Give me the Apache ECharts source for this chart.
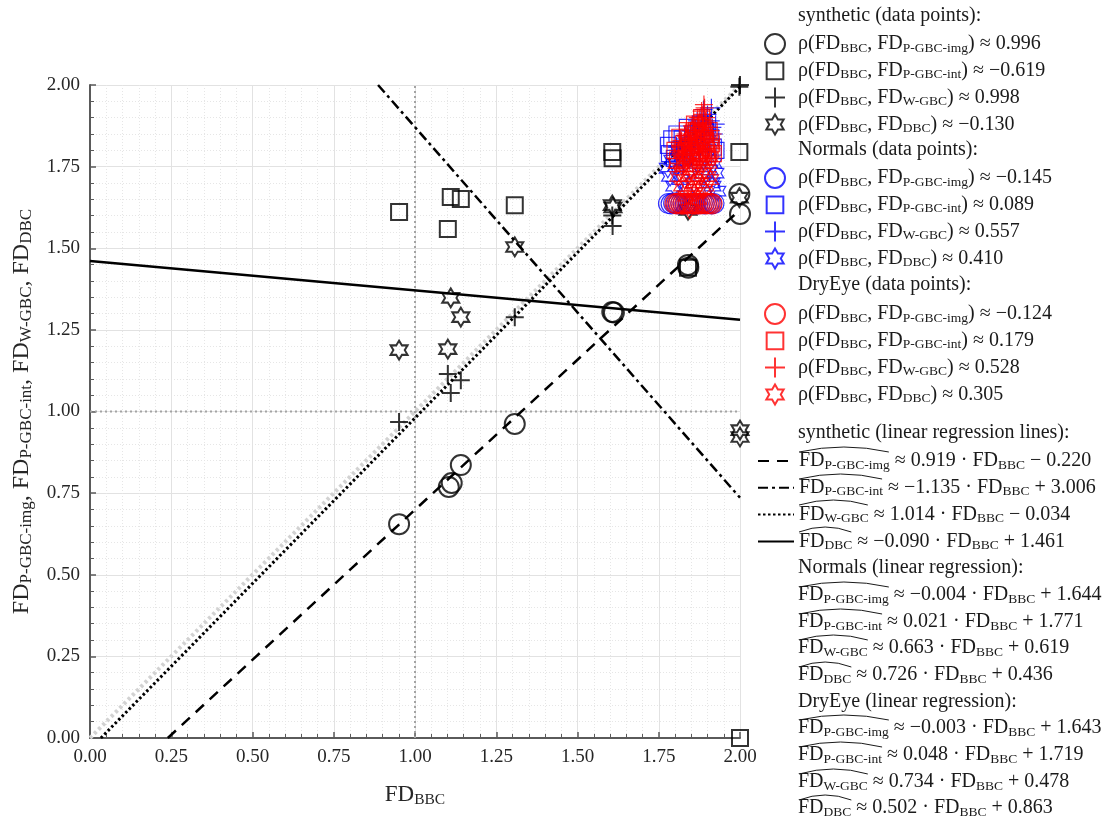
<!DOCTYPE html>
<html><head><meta charset="utf-8">
<script src="https://cdn.jsdelivr.net/npm/echarts@6/dist/echarts.min.js"></script>
<style>html,body{margin:0;padding:0;background:#fff}#c{width:1102px;height:821px}</style>
</head><body><div id="c"></div>
<script>
// ---------------- DATA ----------------
const subNames = ['P-GBC-img', 'P-GBC-int', 'W-GBC', 'DBC'];
const corrSyn = ['0.996', '−0.619', '0.998', '−0.130'];
const corrNor = ['−0.145', '0.089', '0.557', '0.410'];
const corrDry = ['−0.124', '0.179', '0.528', '0.305'];
const coefSyn = [[0.919, -0.220], [-1.135, 3.006], [1.014, -0.034], [-0.090, 1.461]];
const coefNor = [[-0.004, 1.644], [0.021, 1.771], [0.663, 0.619], [0.726, 0.436]];
const coefDry = [[-0.003, 1.643], [0.048, 1.719], [0.734, 0.478], [0.502, 0.863]];

// regression line end points
const lineImg = [[0.2394, 0], [2, 1.618]];
const lineInt = [[0.8863, 2], [2, 0.736]];
const lineW = [[0.0335, 0], [2, 1.994]];
const lineDbc = [[0, 1.461], [2, 1.281]];
const lineIdent = [[0, 0], [2, 2]];
const refV = [[1, 0], [1, 2]];
const refH = [[0, 1], [2, 1]];

// synthetic points
const synImg = [[0.951,0.655],[1.104,0.769],[1.113,0.781],[1.141,0.836],[1.307,0.962],[1.607,1.305],[1.612,1.303],[1.840,1.449],[1.841,1.440],[1.998,1.666],[2.000,1.605],[2.001,1.559]];
const synInt = [[0.951,1.611],[1.101,1.559],[1.110,1.657],[1.141,1.651],[1.307,1.632],[1.607,1.795],[1.608,1.776],[1.840,1.440],[1.998,1.795],[2.000,0.000]];
const synW = [[0.951,0.968],[1.101,1.115],[1.110,1.057],[1.141,1.096],[1.307,1.289],[1.607,1.600],[1.608,1.568],[1.840,1.830],[1.998,1.995],[2.000,2.000]];
const synDbc = [[0.951,1.188],[1.101,1.191],[1.110,1.348],[1.141,1.289],[1.307,1.504],[1.607,1.632],[1.609,1.625],[1.840,1.617],[1.998,1.655],[2.000,0.943],[2.000,0.922]];

// Normals (blue)
const norImg = [[1.780,1.637],[1.788,1.636],[1.796,1.638],[1.803,1.637],[1.810,1.636],[1.818,1.637],[1.825,1.638],[1.832,1.636],[1.840,1.637],[1.846,1.637],[1.852,1.636],[1.858,1.638],[1.864,1.637],[1.870,1.636],[1.877,1.637],[1.884,1.638],[1.890,1.636],[1.897,1.637],[1.905,1.637],[1.912,1.636],[1.920,1.637]];
const norInt = [[1.780,1.815],[1.783,1.790],[1.790,1.835],[1.798,1.775],[1.806,1.850],[1.814,1.800],[1.822,1.835],[1.830,1.760],[1.838,1.870],[1.846,1.815],[1.854,1.790],[1.862,1.850],[1.870,1.780],[1.878,1.880],[1.886,1.820],[1.894,1.860],[1.902,1.790],[1.910,1.840],[1.918,1.810],[1.926,1.800]];
const norW = [[1.800,1.790],[1.806,1.810],[1.812,1.770],[1.818,1.825],[1.824,1.800],[1.830,1.845],[1.836,1.780],[1.842,1.830],[1.848,1.860],[1.852,1.810],[1.858,1.875],[1.862,1.840],[1.868,1.890],[1.872,1.820],[1.876,1.860],[1.880,1.905],[1.884,1.845],[1.888,1.925],[1.892,1.880],[1.896,1.860],[1.900,1.910],[1.905,1.835],[1.910,1.890],[1.915,1.870],[1.920,1.850],[1.925,1.880],[1.912,1.930]];
const norDbc = [[1.778,1.745],[1.785,1.720],[1.792,1.770],[1.798,1.690],[1.805,1.750],[1.812,1.800],[1.818,1.710],[1.825,1.770],[1.832,1.680],[1.838,1.820],[1.845,1.740],[1.852,1.790],[1.858,1.700],[1.865,1.850],[1.870,1.760],[1.876,1.810],[1.882,1.720],[1.888,1.870],[1.894,1.780],[1.900,1.830],[1.906,1.740],[1.912,1.700],[1.918,1.760],[1.924,1.730],[1.930,1.675],[1.915,1.690]];

// DryEye (red)
const dryImg = [[1.800,1.637],[1.806,1.636],[1.812,1.638],[1.818,1.637],[1.824,1.636],[1.830,1.637],[1.836,1.638],[1.842,1.636],[1.848,1.637],[1.854,1.637],[1.860,1.636],[1.866,1.638],[1.872,1.637],[1.878,1.636],[1.884,1.637],[1.890,1.638],[1.896,1.636],[1.902,1.637],[1.908,1.637],[1.914,1.636]];
const dryInt = [[1.800,1.800],[1.808,1.770],[1.815,1.840],[1.822,1.800],[1.830,1.760],[1.838,1.860],[1.845,1.810],[1.852,1.780],[1.860,1.880],[1.868,1.830],[1.875,1.790],[1.882,1.900],[1.890,1.840],[1.897,1.800],[1.905,1.860],[1.912,1.820],[1.918,1.790],[1.826,1.820],[1.834,1.790],[1.842,1.840],[1.850,1.800],[1.858,1.830],[1.866,1.860],[1.874,1.820],[1.880,1.780],[1.886,1.870],[1.894,1.830],[1.900,1.780],[1.908,1.800]];
const dryW = [[1.810,1.800],[1.815,1.760],[1.820,1.830],[1.826,1.790],[1.832,1.850],[1.838,1.770],[1.843,1.820],[1.848,1.860],[1.853,1.800],[1.858,1.880],[1.862,1.840],[1.866,1.770],[1.870,1.900],[1.874,1.860],[1.878,1.820],[1.882,1.920],[1.886,1.880],[1.889,1.940],[1.892,1.850],[1.896,1.900],[1.900,1.800],[1.904,1.870],[1.908,1.830],[1.912,1.780],[1.916,1.850],[1.815,1.810],[1.822,1.780],[1.828,1.820],[1.834,1.800],[1.840,1.840],[1.846,1.790],[1.850,1.830],[1.856,1.850],[1.860,1.810],[1.864,1.870],[1.868,1.830],[1.872,1.880],[1.876,1.900],[1.880,1.850],[1.884,1.910],[1.888,1.870],[1.891,1.930],[1.894,1.890],[1.898,1.860],[1.902,1.840],[1.906,1.810],[1.910,1.860],[1.855,1.760],[1.885,1.790],[1.895,1.770],[1.825,1.750]];
const dryDbc = [[1.805,1.760],[1.810,1.720],[1.816,1.800],[1.822,1.690],[1.828,1.760],[1.834,1.830],[1.840,1.720],[1.845,1.620],[1.848,1.790],[1.853,1.860],[1.858,1.700],[1.862,1.750],[1.867,1.820],[1.872,1.680],[1.876,1.880],[1.880,1.770],[1.885,1.730],[1.890,1.840],[1.894,1.690],[1.898,1.800],[1.903,1.760],[1.908,1.710],[1.912,1.820],[1.835,1.660],[1.870,1.650],[1.820,1.740],[1.830,1.710],[1.838,1.780],[1.844,1.690],[1.850,1.740],[1.856,1.810],[1.864,1.720],[1.870,1.790],[1.878,1.700],[1.884,1.760],[1.892,1.740],[1.900,1.720],[1.906,1.780],[1.860,1.670],[1.888,1.680]];

// ---------------- STYLE ----------------
const FONT = '"Liberation Serif", "Times New Roman", serif';
const FS = 20, SFS = 13.5;
const TXT = '#1a1a1a';
const rich = { s: { fontFamily: FONT, fontSize: SFS, lineHeight: 12, verticalAlign: 'bottom', color: TXT } };
const richAx = { s: { fontFamily: FONT, fontSize: 15.5, lineHeight: 14, verticalAlign: 'bottom', color: '#262626' } };
const richAxY = { s: { fontFamily: FONT, fontSize: 17, lineHeight: 15, verticalAlign: 'bottom', color: '#262626' } };
const SYM_SQ = 'path://M-1,-1M0,0L10,0L10,10L0,10ZM11,11';
const SYM_PLUS = 'path://M10,0L10,20M0,10L20,10';
const SYM_STAR = 'path://M100,0L128.87,50L186.6,50L157.7,100L186.6,150L128.87,150L100,200L71.13,150L13.4,150L42.3,100L13.4,50L71.13,50Z';
const symbols = ['circle', SYM_SQ, SYM_PLUS, SYM_STAR];
const symSizes = [20, 19.2, [18, 18], [17, 19]];

function fmtN(v) { return v < 0 ? '−' + Math.abs(v).toFixed(3) : v.toFixed(3); }
function regText(i, c) {
  const b = c[1] < 0 ? ' − ' + Math.abs(c[1]).toFixed(3) : ' + ' + c[1].toFixed(3);
  return 'FD{s|' + subNames[i] + '} ≈ ' + fmtN(c[0]) + ' · FD{s|BBC}' + b;
}
function corrText(i, r) { return 'ρ(FD{s|BBC}, FD{s|' + subNames[i] + '}) ≈ ' + r; }

const labelMap = {};
const series = [];
function refLine(data, color, width, dash) {
  series.push({ type: 'line', data, symbol: 'none', silent: true, lineStyle: { color, width, type: dash }, z: 2 });
}
refLine(refV, '#a3a3a3', 2, [2, 3]);
refLine(refH, '#a3a3a3', 2, [2, 3]);
refLine(lineIdent, '#d2d2d2', 4, [3, 3]);

const synLines = [lineImg, lineInt, lineW, lineDbc];
const synDash = [[11, 8], [10, 4, 3, 4], [2.5, 2.5], 'solid'];
const synLW = [2.5, 2.5, 3, 2.5];
synLines.forEach((d, i) => {
  const nm = 'synL' + i;
  labelMap[nm] = regText(i, coefSyn[i]);
  series.push({ name: nm, type: 'line', data: d, symbol: 'none', silent: true,
    itemStyle: { color: '#000' },
    lineStyle: { color: '#000', width: synLW[i], type: synDash[i] }, z: 3 });
});

function addScatter(prefix, sets, color, bw, corr) {
  sets.forEach((d, i) => {
    const nm = prefix + i;
    labelMap[nm] = corrText(i, corr[i]);
    series.push({ name: nm, type: 'scatter', data: d, symbol: symbols[i], symbolSize: symSizes[i],
      silent: true, z: 4,
      itemStyle: { color: 'rgba(0,0,0,0)', borderColor: color, borderWidth: bw } });
  });
}
addScatter('syn', [synImg, synInt, synW, synDbc], '#000', 2, corrSyn);
addScatter('nor', [norImg, norInt, norW, norDbc], '#0000ff', 1.2, corrNor);
addScatter('dry', [dryImg, dryInt, dryW, dryDbc], '#ff0000', 1.2, corrDry);

function legend(names, top, left, extra) {
  return Object.assign({ data: names, orient: 'vertical', left, top, padding: 0, itemWidth: 36, itemHeight: 20,
    itemGap: 4.8, selectedMode: false, formatter: n => labelMap[n],
    textStyle: { fontFamily: FONT, fontSize: FS, color: TXT, lineHeight: 22, rich } }, extra || {});
}

// text rows without icons + hats
const graphic = [];
function addText(txt, y) {
  graphic.push({ type: 'text', x: 798, y, silent: true,
    style: { text: txt, fontFamily: FONT, fontSize: FS, fill: TXT, lineHeight: 22, verticalAlign: 'middle', rich } });
}
const cv = document.createElement('canvas').getContext('2d');
function measure(t, size) { cv.font = size + 'px ' + FONT; return cv.measureText(t).width; }
function addHat(i, y) {
  const w = measure('FD', FS) + measure(subNames[i], SFS);
  const x1 = 799, x2 = 798 + w;
  graphic.push({ type: 'bezierCurve', silent: true,
    shape: { x1, y1: y - 8, x2, y2: y - 8, cpx1: (x1 + x2) / 2, cpy1: y - 18 },
    style: { stroke: TXT, lineWidth: 1, fill: null } });
}
addText('synthetic (data points):', 16);
addText('Normals (data points):', 150);
addText('DryEye (data points):', 285);
addText('synthetic (linear regression lines):', 433);
addText('Normals (linear regression):', 568);
const norRows = [595, 622, 648, 675];
norRows.forEach((y, i) => { addText(regText(i, coefNor[i]), y); addHat(i, y); });
addText('DryEye (linear regression):', 702);
const dryRows = [728, 755, 782, 808];
dryRows.forEach((y, i) => { addText(regText(i, coefDry[i]), y); addHat(i, y); });
[460, 487, 513, 540].forEach((y, i) => addHat(i, y));

const axisCommon = {
  type: 'value', min: 0, max: 2, interval: 0.25,
  axisLine: { show: true, lineStyle: { color: '#5a5a5a', width: 2 } },
  axisTick: { show: true, inside: true, length: 6, lineStyle: { color: '#5a5a5a', width: 1.5 } },
  minorTick: { show: true, splitNumber: 5, length: 4, lineStyle: { color: '#5a5a5a', width: 1 } },
  splitLine: { show: true, lineStyle: { color: '#e2e2e2', width: 1 } },
  minorSplitLine: { show: true, lineStyle: { color: '#e6e6e6', width: 1, type: [1, 2] } },
  axisLabel: { fontFamily: FONT, fontSize: 19, color: '#262626', margin: 10, formatter: v => v.toFixed(2) },
  nameLocation: 'middle',
  nameTextStyle: { fontFamily: FONT, fontSize: 23, color: '#262626', lineHeight: 26, rich: richAx }
};

const chart = echarts.init(document.getElementById('c'), null, { renderer: 'canvas' });
chart.setOption({
  animation: false,
  backgroundColor: '#fff',
  grid: { left: 88, right: 362, top: 85, bottom: 83, containLabel: false },
  xAxis: Object.assign({}, axisCommon, { name: 'FD{s|BBC}', nameGap: 44 }),
  yAxis: Object.assign({}, axisCommon, { name: 'FD{s|P-GBC-img}, FD{s|P-GBC-int}, FD{s|W-GBC}, FD{s|DBC}', nameGap: 55,
    nameTextStyle: { fontFamily: FONT, fontSize: 24, color: '#262626', lineHeight: 27, rich: richAxY } }),
  legend: [
    legend(['syn0', 'syn1', 'syn2', 'syn3'], 33, 764),
    legend(['nor0', 'nor1', 'nor2', 'nor3'], 167, 764),
    legend(['dry0', 'dry1', 'dry2', 'dry3'], 303, 764),
    legend(['synL0', 'synL1', 'synL2', 'synL3'], 450, 757,
      { itemStyle: { color: 'rgba(0,0,0,0)', borderColor: 'rgba(0,0,0,0)', borderWidth: 0 } })
  ],
  graphic,
  series
});
</script></body></html>
